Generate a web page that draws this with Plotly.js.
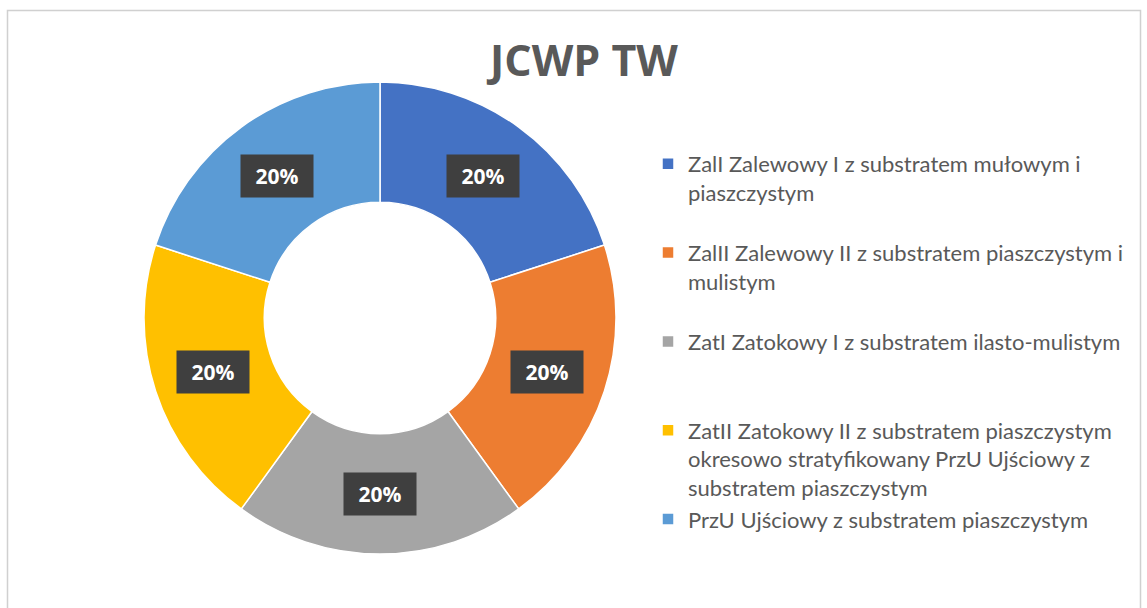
<!DOCTYPE html>
<html><head><meta charset="utf-8">
<script src="https://cdn.plot.ly/plotly-3.0.1.min.js"></script>
<style>html,body{margin:0;padding:0;background:#fff}#chart{width:1147px;height:608px}</style>
</head><body><div id="chart"></div>
<script>
const categories = [
  "ZalI Zalewowy I z substratem mułowym i<br>piaszczystym<br> ",
  "ZalII Zalewowy II z substratem piaszczystym i<br>mulistym<br> ",
  "ZatI Zatokowy I z substratem ilasto-mulistym<br> <br> ",
  "ZatII Zatokowy II z substratem piaszczystym<br>okresowo stratyfikowany PrzU Ujściowy z<br>substratem piaszczystym",
  "PrzU Ujściowy z substratem piaszczystym"
];
const values = [20, 20, 20, 20, 20];
const colors = ["#4472C4", "#ED7D31", "#A5A5A5", "#FFC000", "#5B9BD5"];
const titleText = "JCWP TW";

const W = 1147, H = 608;
const cx = 380, cy = 318, R = 236, holeFrac = 0.49;
const dom = { x: [(cx - R) / W, (cx + R) / W], y: [(H - cy - R) / H, (H - cy + R) / H] };

const total = values.reduce((a, b) => a + b, 0);
const labelR = R * (1 + holeFrac) / 2;
let cum = 0;
const annotations = values.map(v => {
  const th = 2 * Math.PI * (cum + v / 2) / total;
  cum += v;
  return {
    x: (cx + labelR * Math.sin(th)) / W,
    y: (H - (cy - labelR * Math.cos(th))) / H,
    xref: 'paper', yref: 'paper', showarrow: false,
    text: '<b>' + Math.round(100 * v / total) + '%</b>',
    font: { family: 'Open Sans, sans-serif', size: 21, color: '#ffffff' },
    bgcolor: '#3f3f3f', width: 70, height: 40, xanchor: 'center', yanchor: 'middle'
  };
});

const trace = {
  type: 'pie', values: values, labels: categories, hole: holeFrac,
  sort: false, direction: 'clockwise', rotation: 0,
  marker: { colors: colors, line: { color: '#ffffff', width: 1.5 } },
  textinfo: 'none', hoverinfo: 'label+percent', domain: dom
};

const layout = {
  width: W, height: H, margin: { l: 0, r: 0, t: 0, b: 0 },
  paper_bgcolor: '#ffffff',
  font: { family: 'Open Sans, sans-serif', color: '#595959' },
  title: { text: '<b>' + titleText + '</b>', x: 584 / W, xanchor: 'center', y: 1 - 61 / H, yanchor: 'middle',
           font: { family: 'Open Sans, sans-serif', size: 43, color: '#595959' } },
  showlegend: true,
  legend: { x: 648 / W, xanchor: 'left', y: 1 - 143 / H, yanchor: 'top', valign: 'top',
            font: { family: 'Lato, sans-serif', size: 22, color: '#595959' }, bgcolor: 'rgba(0,0,0,0)' },
  annotations: annotations,
  shapes: [{ type: 'rect', xref: 'paper', yref: 'paper', x0: 7.5 / W, x1: 1140.5 / W, y0: -0.2, y1: 1 - 10.5 / H,
             line: { color: '#d0d0d0', width: 1.5 }, fillcolor: 'rgba(0,0,0,0)', layer: 'below' }]
};

Plotly.newPlot('chart', [trace], layout, { displayModeBar: false, staticPlot: true });
</script></body></html>
